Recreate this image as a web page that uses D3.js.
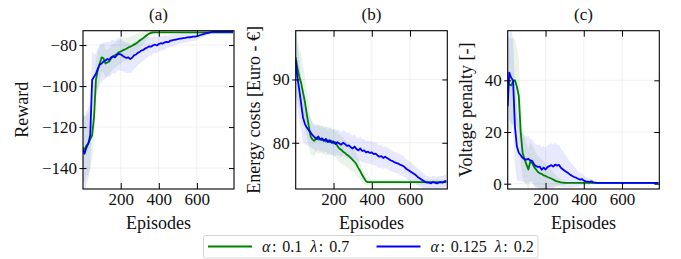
<!DOCTYPE html>
<html><head><meta charset="utf-8">
<script src="https://cdn.jsdelivr.net/npm/d3@7"></script>
<style>
html,body{margin:0;padding:0;background:#fff;}
svg text{font-family:"Liberation Serif","DejaVu Serif",serif !important;}
</style></head>
<body><svg id="c" width="681" height="259"></svg>
<script>
const episodes = [2,10,20,30,40,50,60,70,80,90,100,110,120,130,140,150,160,170,180,190,200,210,220,230,240,250,260,270,280,290,300,310,320,330,340,350,360,370,380,390,400,410,420,430,440,450,460,470,480,490,500,510,520,530,540,550,560,570,580,590,600,610,620,630,640,650,660,670,680,690,700,710,720,730,740,750,760,770,780,790];

// (a) Reward
const rewardGreen = [-130,-131,-129,-128,-126,-124,-115,-97,-92,-89,-86,-86.5,-89,-88.5,-88,-86.5,-85.5,-85,-84.3,-83.5,-83.2,-82.6,-82.2,-81.8,-81.2,-80.8,-80.3,-79.8,-79.3,-78.6,-77.8,-77.2,-76.5,-75.7,-75,-74.4,-74,-73.8,-73.8,-73.8,-73.8,-73.8,-73.8,-73.8,-73.8,-73.8,-73.8,-73.8,-73.8,-73.8,-73.8,-73.8,-73.8,-73.8,-73.8,-73.8,-73.8,-73.8,-73.8,-73.8,-73.8,-73.8,-73.8,-73.8,-73.8,-73.8,-73.8,-73.8,-73.8,-73.8,-73.8,-73.8,-73.8,-73.8,-73.8,-73.8,-73.8,-73.8,-73.8,-73.8];
const rewardGreenSd = [16,16,15,15,14,12,11,10,9,8,7,7,7,6.5,6.5,6.5,6,6,6,6,6,5.5,5.5,5.5,5,5,5,4.5,4.5,4,4,3.5,3,2.5,2,1.5,1,0.6,0.5,0.5,0.5,0.5,0.5,0.5,0.5,0.5,0.5,0.5,0.5,0.5,0.5,0.5,0.5,0.5,0.5,0.5,0.5,0.5,0.5,0.5,0.5,0.5,0.5,0.5,0.5,0.5,0.5,0.5,0.5,0.5,0.5,0.5,0.5,0.5,0.5,0.5,0.5,0.5,0.5,0.5];
const rewardBlue = [-131,-133,-130,-128,-124,-97,-95.5,-94,-91.5,-89.5,-89,-88,-87.5,-86.8,-87.2,-86,-85.5,-86,-84.8,-84.3,-84.5,-85.2,-85.8,-86.3,-86,-86.8,-86.2,-85,-84.6,-83.8,-83.3,-82.6,-82.3,-81.6,-81.2,-80.6,-80.8,-80.1,-79.8,-80.2,-79.5,-79.1,-79.3,-78.7,-78.4,-78.6,-77.9,-77.7,-77.5,-77.3,-77.1,-76.9,-76.8,-76.6,-76.5,-76.3,-76.2,-76.1,-75.9,-75.9,-75.7,-75.4,-75.1,-74.8,-74.5,-74.2,-74,-73.8,-73.6,-73.6,-73.6,-73.6,-73.6,-73.6,-73.6,-73.6,-73.6,-73.6,-73.6,-73.6];
const rewardBlueSd = [18,18,18,17,16,14,11,10,10,10,9,9,9,8.5,8.5,8.5,8,8,8,8,8,7.5,7.5,7.5,7.5,7,7,6.5,6.5,6,6,5.5,5.5,5,5,4.5,4.5,4,4,4,3.5,3.5,3.5,3.5,3,3,3,3,2.8,2.8,2.5,2.5,2.5,2.3,2.3,2.2,2.2,2,2,2,1.8,1.7,1.6,1.5,1.4,1.3,1.2,1.1,1,1,1,1,1,1,1,1,1,1,1,1];

// (b) Energy costs
const costGreen = [93.5,92,90.5,89.5,88,86.5,84.5,82.7,81,80.5,80.3,80.8,80.5,80.6,80.4,80.5,80.2,80.4,80.1,80.3,79.9,80.1,79.5,79.1,78.9,78.6,78.4,78.1,77.9,77.6,77.3,77,76.6,76,75.5,74.9,74.4,73.9,73.8,73.8,73.8,73.8,73.8,73.8,73.8,73.8,73.8,73.8,73.8,73.8,73.8,73.8,73.8,73.8,73.8,73.8,73.8,73.8,73.8,73.8,73.8,73.8,73.8,73.8,73.8,73.8,73.8,73.8,73.8,73.8,73.8,73.8,73.8,73.8,73.8,73.8,73.8,73.8,73.8,73.8];
const costGreenSd = [5,5,4.8,4.5,4.2,4,3.6,3.2,2.8,2.5,2.3,2.2,2.2,2.2,2.2,2.2,2.2,2.2,2.2,2.2,2.2,2.2,2.2,2.2,2.2,2.2,2,2,2,2,1.8,1.8,1.6,1.5,1.3,1.1,0.9,0.6,0.4,0.4,0.4,0.4,0.4,0.4,0.4,0.4,0.4,0.4,0.4,0.4,0.4,0.4,0.4,0.4,0.4,0.4,0.4,0.4,0.4,0.4,0.4,0.4,0.4,0.4,0.4,0.4,0.4,0.4,0.4,0.4,0.4,0.4,0.4,0.4,0.4,0.4,0.4,0.4,0.4,0.4];
const costBlue = [93,90.5,88.5,86.3,84,83,82.4,82,81.6,81.2,80.9,80.6,81,80.5,80.7,80.3,80.6,80.1,80.4,80,80.2,79.8,80.1,79.9,79.7,80,79.8,79.5,79.6,79.3,79.1,79.4,79,78.8,79.1,78.7,78.8,78.5,78.6,78.4,78.5,78.2,78.3,78,77.8,77.9,77.6,77.8,77.6,77.4,77.2,77.1,76.9,76.8,76.7,76.5,76.4,76.2,75.9,75.7,75.5,75.3,75.1,74.9,74.6,74.4,74.2,74,73.8,73.7,73.7,73.6,73.8,73.7,73.6,73.7,73.8,73.7,73.9,74];
const costBlueSd = [5,5,4.8,4.3,3.8,3.2,2.8,2.5,2.3,2.1,2,2,2,2,2,2,2,2,2,2,2,2,2,2,2,2,2,2,2,2,2,2,1.9,1.9,1.9,1.9,1.8,1.8,1.8,1.8,1.8,1.8,1.8,1.8,1.8,1.8,1.7,1.7,1.7,1.7,1.7,1.7,1.6,1.6,1.6,1.6,1.6,1.6,1.5,1.5,1.5,1.5,1.4,1.4,1.3,1.3,1.2,1.2,1.1,1,1,1,1,1,1,1,1,1,1,1];

// (c) Voltage penalty
const voltGreen = [40,38.5,38,39.5,40,37.5,34,20,12,9.5,7.5,5.5,8.5,8,6.5,5.5,4.5,4,3.8,3.2,3,2.6,2.3,2,1.6,1.2,0.9,0.7,0.5,0.4,0.3,0.3,0.3,0.3,0.3,0.3,0.3,0.3,0.3,0.3,0.3,0.3,0.3,0.3,0.3,0.3,0.3,0.3,0.3,0.3,0.3,0.3,0.3,0.3,0.3,0.3,0.3,0.3,0.3,0.3,0.3,0.3,0.3,0.3,0.3,0.3,0.3,0.3,0.3,0.3,0.3,0.3,0.3,0.3,0.3,0.3,0.3,0.3,0.3,0.3];
const voltGreenSd = [18,18,18,17,16,15,14,12,10,9,8,8,7.5,7,7,6.5,6,6,5.5,5.5,5,4.5,4,3.5,3,2.5,2,1.5,1.2,1,0.8,0.5,0.3,0.2,0.2,0.2,0.2,0.2,0.2,0.2,0.2,0.2,0.2,0.2,0.2,0.2,0.2,0.2,0.2,0.2,0.2,0.2,0.2,0.2,0.2,0.2,0.2,0.2,0.2,0.2,0.2,0.2,0.2,0.2,0.2,0.2,0.2,0.2,0.2,0.2,0.2,0.2,0.2,0.2,0.2,0.2,0.2,0.2,0.2,0.2];
const voltBlue = [30,43,41,40,22,14.5,12,11,10,9.5,9.3,9.6,9,8.8,7.5,6.8,6.5,6.6,5.4,6.2,5.5,6.4,6.8,7.2,6.6,7.4,7,7.3,6.2,5.6,5,4.5,4,3.4,3,2.6,2.3,1.9,1.6,1.8,1.2,0.9,0.8,0.7,0.9,0.5,0.4,0.3,0.3,0.3,0.3,0.3,0.3,0.3,0.3,0.3,0.3,0.3,0.3,0.3,0.3,0.3,0.3,0.3,0.3,0.3,0.3,0.3,0.3,0.3,0.3,0.3,0.3,0.3,0.3,0.3,0.3,0.3,0.3,0.3];
const voltBlueSd = [18,18,18,17,15,13,11,10,9.5,9,9,9,8.5,8.5,8.5,8.5,8.5,8.5,8.5,8.5,8.5,8.5,8.5,8.5,8.5,8.5,8,8,7.5,7,6.5,6,5.5,5,4.5,4,3.5,3,2.5,2.2,2,1.8,1.5,1.2,1,0.8,0.6,0.5,0.4,0.4,0.4,0.4,0.4,0.4,0.4,0.4,0.4,0.4,0.4,0.4,0.4,0.4,0.4,0.4,0.4,0.4,0.4,0.4,0.4,0.4,0.4,0.4,0.4,0.4,0.4,0.4,0.4,0.4,0.4,0.4];

const xTicks = [200,400,600];
const titles = ["(a)","(b)","(c)"];
const yLabels = ["Reward","Energy costs [Euro - €]","Voltage penalty [-]"];
const legendLabels = [["α","0.1","λ","0.7"],["α","0.125","λ","0.2"]];
const colors = ["#008000","#0000ff"];

const panels = [
  {x0:83, x1:234, ydom:[-150.2,-73], yt:[-140,-120,-100,-80], g:rewardGreen, gs:rewardGreenSd, b:rewardBlue, bs:rewardBlueSd, labX:28},
  {x0:295.7, x1:447.3, ydom:[72.7,97.7], yt:[80,90], g:costGreen, gs:costGreenSd, b:costBlue, bs:costBlueSd, labX:260},
  {x0:507.7, x1:659.3, ydom:[-2.05,59.2], yt:[0,20,40], g:voltGreen, gs:voltGreenSd, b:voltBlue, bs:voltBlueSd, labX:472}
];
const plotTop = 30.7, plotBottom = 189;
const svg = d3.select("#c");
const FS = 17, LFS = 18;

panels.forEach((p, k) => {
  const x = d3.scaleLinear().domain([2,795]).range([p.x0,p.x1]);
  const y = d3.scaleLinear().domain(p.ydom).range([plotBottom, plotTop]);
  const g = svg.append("g");
  const cid = "clip"+k;
  svg.append("clipPath").attr("id",cid).append("rect")
    .attr("x",p.x0).attr("y",plotTop).attr("width",p.x1-p.x0).attr("height",plotBottom-plotTop);
  g.selectAll(".gx").data(xTicks).join("line")
    .attr("x1",d=>x(d)).attr("x2",d=>x(d)).attr("y1",plotTop).attr("y2",plotBottom)
    .attr("stroke","#ececec").attr("stroke-width",0.8);
  g.selectAll(".gy").data(p.yt).join("line")
    .attr("y1",d=>y(d)).attr("y2",d=>y(d)).attr("x1",p.x0).attr("x2",p.x1)
    .attr("stroke","#ececec").attr("stroke-width",0.8);
  const plot = g.append("g").attr("clip-path",`url(#${cid})`);
  const series = [[p.g,p.gs,colors[0]],[p.b,p.bs,colors[1]]];
  series.forEach(([m,s,c]) => {
    const area = d3.area().x((d,i)=>x(episodes[i])).y0((d,i)=>y(m[i]-s[i])).y1((d,i)=>y(m[i]+s[i]));
    plot.append("path").datum(m).attr("d",area).attr("fill",c).attr("fill-opacity",0.09);
  });
  series.forEach(([m,s,c]) => {
    const line = d3.line().x((d,i)=>x(episodes[i])).y(d=>y(d));
    plot.append("path").datum(m).attr("d",line).attr("fill","none").attr("stroke",c).attr("stroke-width",1.8).attr("stroke-linejoin","round");
  });
  const axB = g.append("g").attr("transform",`translate(0,${plotBottom})`)
    .call(d3.axisBottom(x).tickValues(xTicks).tickSize(-6).tickPadding(4));
  const axT = g.append("g").attr("transform",`translate(0,${plotTop})`)
    .call(d3.axisTop(x).tickValues(xTicks).tickSize(-6).tickFormat(""));
  const axL = g.append("g").attr("transform",`translate(${p.x0},0)`)
    .call(d3.axisLeft(y).tickValues(p.yt).tickSize(3.5).tickPadding(2.5));
  const axR = g.append("g").attr("transform",`translate(${p.x1},0)`)
    .call(d3.axisRight(y).tickValues(p.yt).tickSize(-5).tickFormat(""));
  axL.selectAll(".tick line").attr("x2",-3.5).attr("x1",3.5);
  [axB,axT,axL,axR].forEach(a=>{
    a.select(".domain").remove();
    a.selectAll(".tick line").attr("stroke","#000").attr("stroke-width",1);
    a.selectAll("text").attr("font-size",FS).attr("fill","#111");
  });
  g.append("rect").attr("x",p.x0).attr("y",plotTop).attr("width",p.x1-p.x0).attr("height",plotBottom-plotTop)
    .attr("fill","none").attr("stroke","#000").attr("stroke-width",1.1);
  g.append("text").attr("x",(p.x0+p.x1)/2).attr("y",19.5).attr("text-anchor","middle")
    .attr("font-size",FS).attr("fill","#111").text(titles[k]);
  g.append("text").attr("x",(p.x0+p.x1)/2).attr("y",229).attr("text-anchor","middle")
    .attr("font-size",LFS).attr("fill","#111").text("Episodes");
  g.append("text").attr("transform",`translate(${p.labX},${(plotTop+plotBottom)/2}) rotate(-90)`)
    .attr("text-anchor","middle").attr("font-size",LFS).attr("fill","#111").text(yLabels[k]);
});

const lg = svg.append("g");
lg.append("rect").attr("x",203.5).attr("y",235.5).attr("width",334.5).attr("height",22.5).attr("rx",2)
  .attr("fill","#fff").attr("stroke","#d5d5d5").attr("stroke-width",1);
const lx = [208,376.5];
legendLabels.forEach((lab,i)=>{
  lg.append("line").attr("x1",lx[i]).attr("x2",lx[i]+44).attr("y1",246.5).attr("y2",246.5)
    .attr("stroke",colors[i]).attr("stroke-width",1.8);
  const t = lg.append("text").attr("x",lx[i]+54).attr("y",251.5).attr("font-size",16).attr("fill","#111");
  t.append("tspan").attr("font-style","italic").text(lab[0]);
  t.append("tspan").attr("dx",1.5).text(":");
  t.append("tspan").attr("dx",6).text(lab[1]);
  t.append("tspan").attr("dx",8).attr("font-style","italic").text(lab[2]);
  t.append("tspan").attr("dx",1.5).text(":");
  t.append("tspan").attr("dx",6).text(lab[3]);
});
</script></body></html>
